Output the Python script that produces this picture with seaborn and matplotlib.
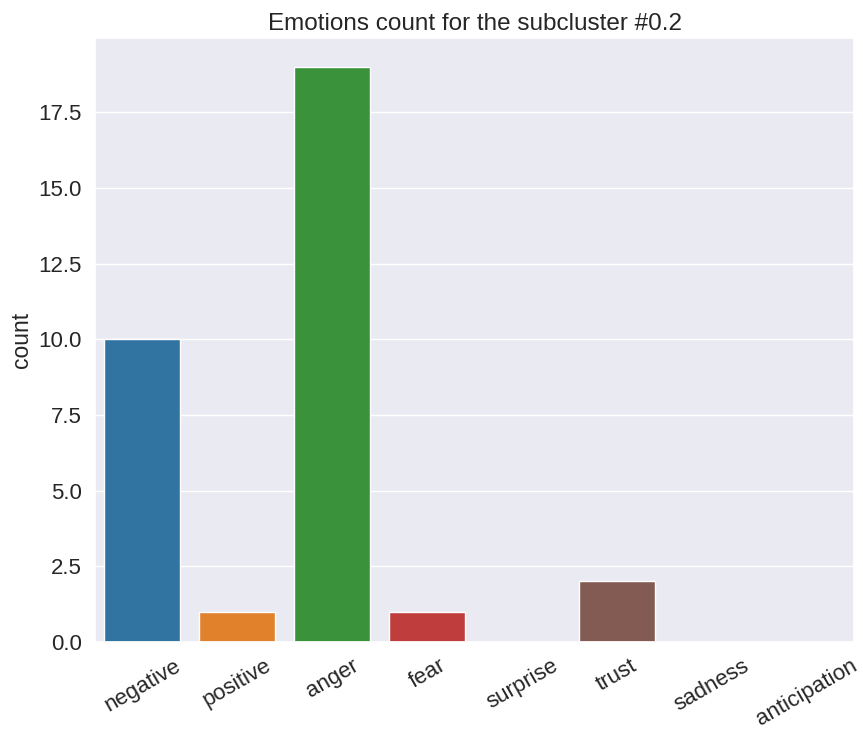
import matplotlib
matplotlib.use("Agg")
import matplotlib.pyplot as plt
import seaborn as sns
import pandas as pd

emotions = ["negative", "positive", "anger", "fear", "surprise", "trust", "sadness", "anticipation"]
counts = [10, 1, 19, 1, 0, 2, 0, 0]

sns.set_theme(style="darkgrid")
plt.rcParams["font.family"] = ["Liberation Sans", "DejaVu Sans"]

df = pd.DataFrame({"emotion": emotions, "count": counts})

fig = plt.figure(figsize=(8.63, 7.33), dpi=100)
ax = fig.add_axes([95 / 863, (733 - 642) / 733, (854 - 95) / 863, (642 - 38) / 733])

sns.barplot(data=df, x="emotion", y="count", hue="emotion", palette="tab10",
            legend=False, saturation=0.75, ax=ax)

ax.set_title("Emotions count for the subcluster #0.2", fontsize=17.5)
ax.set_xlabel("")
ax.set_ylabel("count", fontsize=16.5)
ax.tick_params(axis="both", labelsize=16)
for lbl in ax.get_xticklabels():
    lbl.set_rotation(30)

fig.savefig("out.png", dpi=100)
